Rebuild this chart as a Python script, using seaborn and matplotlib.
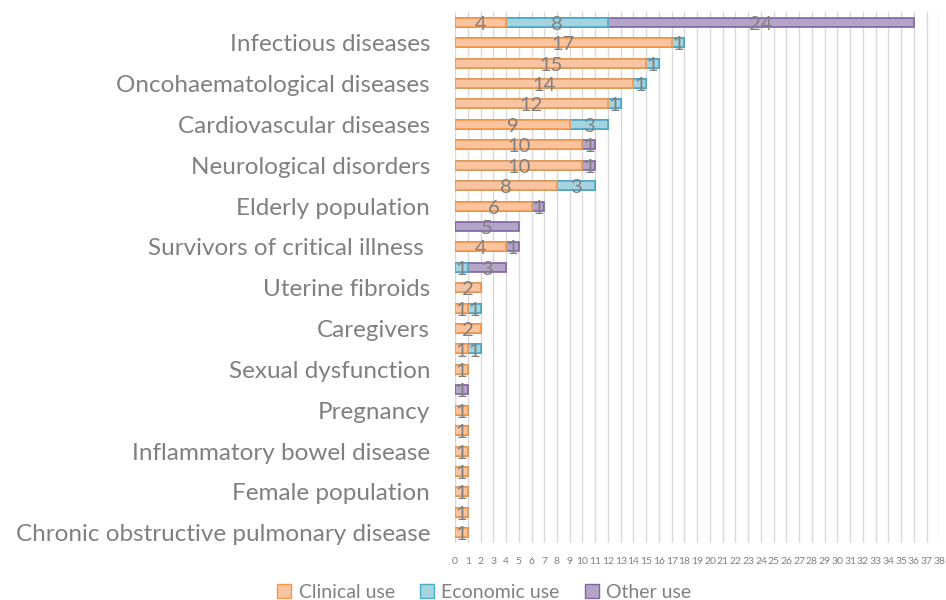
import numpy as np
import pandas as pd
import matplotlib
matplotlib.use("Agg")
import matplotlib.pyplot as plt
from matplotlib.patches import Patch
import seaborn as sns

# rows top to bottom; only every other row carries a visible label
labels = ['', 'Infectious diseases', '', 'Oncohaematological diseases', '',
          'Cardiovascular diseases', '', 'Neurological disorders', '',
          'Elderly population', '', 'Survivors of critical illness ', '',
          'Uterine fibroids', '', 'Caregivers', '', 'Sexual dysfunction', '',
          'Pregnancy', '', 'Inflammatory bowel disease', '', 'Female population',
          '', 'Chronic obstructive pulmonary disease']
clinical = [4, 17, 15, 14, 12, 9, 10, 10, 8, 6, 0, 4, 0, 2, 1, 2, 1, 1, 0, 1, 1, 1, 1, 1, 1, 1]
economic = [8, 1, 1, 1, 1, 3, 0, 0, 3, 0, 0, 0, 1, 0, 1, 0, 1, 0, 0, 0, 0, 0, 0, 0, 0, 0]
other    = [24, 0, 0, 0, 0, 0, 1, 1, 0, 1, 5, 1, 3, 0, 0, 0, 0, 0, 1, 0, 0, 0, 0, 0, 0, 0]
series = ['Clinical use', 'Economic use', 'Other use']
xticks = list(range(0, 39))

rows = ['r%02d' % i for i in range(len(labels))]
df = pd.DataFrame({'row': rows, 'clin': clinical, 'econ': economic, 'oth': other})
df['c1'] = df['clin']
df['c2'] = df['clin'] + df['econ']
df['c3'] = df['c2'] + df['oth']
for c in ['c1', 'c2', 'c3']:
    df[c] = df[c].replace(0, np.nan)

fills = ['#FAC4A0', '#A5D3E0', '#B4A4C8']
edges = ['#F79646', '#4BACC6', '#8064A2']
grey = '#808080'
font = 'Lato'

fig = plt.figure(figsize=(9.46, 6), dpi=100)
ax = fig.add_axes([0.481, 0.095, 0.512, 0.885])

for col, fc, ec in zip(['c3', 'c2', 'c1'], fills[::-1], edges[::-1]):
    sns.barplot(data=df, y='row', x=col, order=rows, orient='h', color=fc,
                edgecolor=ec, linewidth=1.2, width=0.44, saturation=1, ax=ax, zorder=3)

# value labels centred in each segment
for i in range(len(rows)):
    start = 0
    for v in [clinical[i], economic[i], other[i]]:
        if v:
            ax.text(start + v / 2, i + 0.1, str(v), ha='center', va='center',
                    fontsize=14.5, color=grey, family=font, zorder=5)
        start += v

ax.set_xlim(0, 38)
ax.set_ylim(len(rows) - 0.5, -0.5)
ax.set_xticks(xticks)
ax.set_xticklabels([str(t) for t in xticks], fontsize=7.5, color=grey, family=font)
ax.set_yticks(range(len(rows)))
ax.set_yticklabels(labels, fontsize=17.5, color=grey, family=font)
ax.tick_params(length=0)
ax.tick_params(axis='y', pad=18)
ax.tick_params(axis='x', pad=10)
ax.grid(axis='x', color='#D9D9D9', linewidth=1, zorder=0)
ax.set_axisbelow(True)
for s in ax.spines.values():
    s.set_visible(False)
ax.set_xlabel('')
ax.set_ylabel('')

handles = [Patch(facecolor=f, edgecolor=e, linewidth=1) for f, e in zip(fills, edges)]
fig.legend(handles, series, loc='lower center', bbox_to_anchor=(0.512, -0.03), ncol=3,
           frameon=False, prop={'family': font, 'size': 14}, labelcolor=grey,
           handlelength=0.7, handleheight=0.7, handletextpad=0.4, columnspacing=1.3)

fig.savefig('out.png', dpi=100)
